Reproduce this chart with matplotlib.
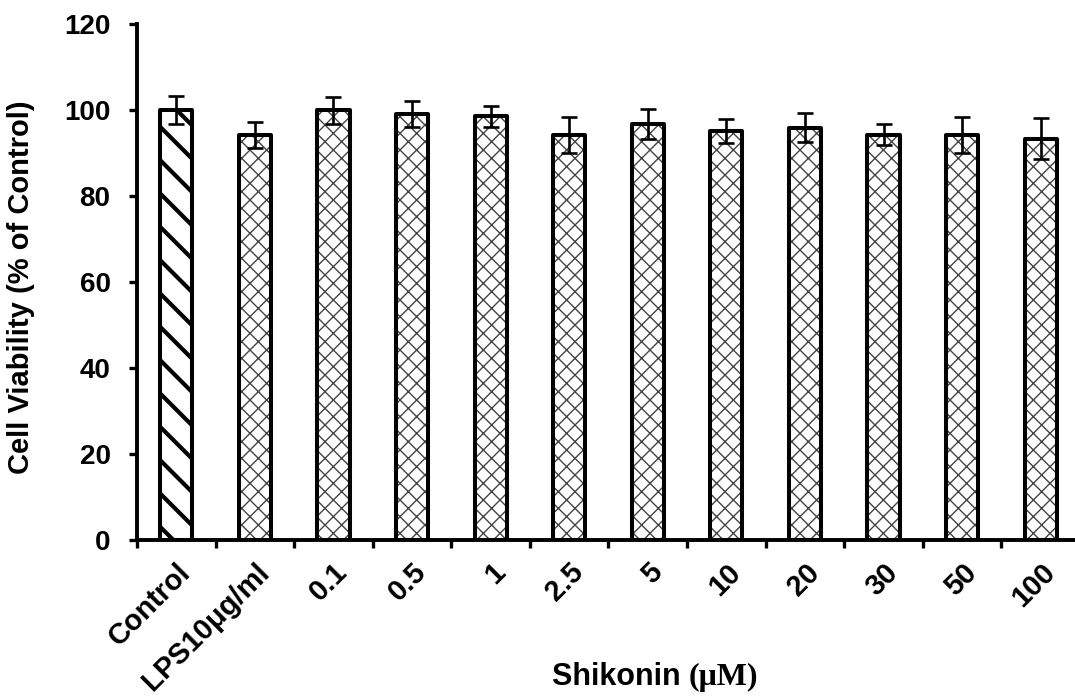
import matplotlib
matplotlib.use("Agg")
import matplotlib.pyplot as plt
from matplotlib.offsetbox import TextArea, HPacker, AnnotationBbox
import numpy as np

# Cell viability data (% of control), mean and error
categories = ["Control", "LPS10μg/ml", "0.1", "0.5", "1", "2.5", "5",
              "10", "20", "30", "50", "100"]
viability = [100.0, 94.2, 99.9, 99.1, 98.5, 94.2, 96.7, 95.1, 95.9, 94.3, 94.1, 93.3]
errors = [3.2, 3.0, 3.1, 3.0, 2.4, 4.1, 3.5, 2.7, 3.4, 2.4, 4.2, 4.8]
y_ticks = [0, 20, 40, 60, 80, 100, 120]

plt.rcParams["font.family"] = ["Liberation Sans", "DejaVu Sans"]
plt.rcParams["font.weight"] = "bold"

W, H = 1075, 698
fig = plt.figure(figsize=(W / 100, H / 100), dpi=100)
ax = fig.add_axes([137 / W, (H - 540) / H, 943 / W, 516 / H])

x = np.arange(len(categories))
bar_w = 0.41

hatches = ["\\"] + ["xx"] * (len(categories) - 1)
hatch_colors = ["black"] + ["#444444"] * (len(categories) - 1)
hatch_lws = [3.0] + [1.0] * (len(categories) - 1)

# hatched fill layer
fill = ax.bar(x, viability, width=bar_w, color="white", edgecolor=hatch_colors,
              linewidth=0, zorder=2)
for p, h, lw in zip(fill.patches, hatches, hatch_lws):
    p.set_hatch(h)
    if hasattr(p, "set_hatch_linewidth"):
        p.set_hatch_linewidth(lw)

# outline layer
outline = ax.bar(x, viability, width=bar_w, facecolor="none", edgecolor="black",
                 linewidth=2.9, zorder=3)
for p in outline.patches:
    p.set_joinstyle("round")

ax.errorbar(x, viability, yerr=errors, fmt="none", ecolor="black",
            elinewidth=1.9, capsize=5.5, capthick=1.9, zorder=4)

ax.set_xlim(-0.5, len(categories) - 0.5)
ax.set_ylim(0, 120)
ax.set_yticks(y_ticks)
ax.set_yticklabels([str(v) for v in y_ticks], fontsize=20, fontweight="bold")

ax.set_xticks(x)
ax.set_xticklabels(categories, rotation=45, ha="right", va="top",
                   rotation_mode="anchor", fontsize=21, fontweight="bold")
ax.set_xticks(np.arange(-0.5, len(categories) - 0.5, 1.0), minor=True)
ax.tick_params(axis="x", which="major", length=0, pad=13)
ax.tick_params(axis="x", which="minor", length=6, width=2.4, direction="out")
ax.tick_params(axis="y", length=6, width=2.4, direction="out", pad=13)

for side in ("top", "right"):
    ax.spines[side].set_visible(False)
for side in ("left", "bottom"):
    ax.spines[side].set_linewidth(2.8)

ax.set_ylabel("Cell Viability (% of Control)", fontsize=21, fontweight="bold")
ax.yaxis.set_label_coords(-0.108, 0.489)

# axis title: sans-serif name, serif unit
title = HPacker(children=[
    TextArea("Shikonin ", textprops=dict(fontsize=22, fontweight="bold",
                                          family="Liberation Sans")),
    TextArea("(μM)", textprops=dict(fontsize=23, fontweight="bold",
                                     family="Liberation Serif")),
], pad=0, sep=0, align="baseline")
ab = AnnotationBbox(title, (655 / W, 1 - 677 / H), xycoords="figure fraction",
                    frameon=False, box_alignment=(0.5, 0.5))
fig.add_artist(ab)

fig.savefig("out.png", dpi=100)
